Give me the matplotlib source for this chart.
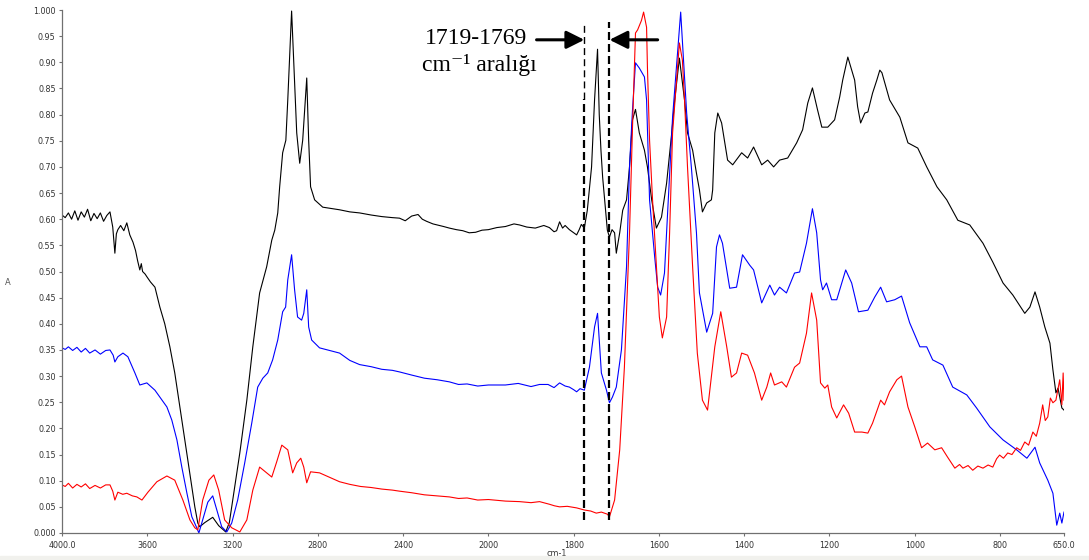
import numpy as np
import matplotlib
matplotlib.use('Agg')
import matplotlib.pyplot as plt
from matplotlib.ticker import FixedLocator, FixedFormatter, NullLocator
from matplotlib.patches import Rectangle

# spectra: (wavenumber cm-1, absorbance)
black = [(4000, 0.608), (3985, 0.603), (3970, 0.612), (3955, 0.600), (3940, 0.616), (3925, 0.598),
         (3910, 0.614), (3895, 0.604), (3880, 0.619), (3865, 0.597), (3850, 0.611), (3835, 0.601),
         (3820, 0.612), (3805, 0.596), (3790, 0.607), (3775, 0.614), (3762, 0.585), (3752, 0.535),
         (3745, 0.572), (3738, 0.580), (3725, 0.588), (3710, 0.578), (3696, 0.593), (3682, 0.570),
         (3667, 0.556), (3655, 0.540), (3645, 0.520), (3635, 0.503), (3628, 0.515), (3622, 0.500),
         (3610, 0.495), (3602, 0.490), (3585, 0.480), (3564, 0.470), (3541, 0.432), (3518, 0.400),
         (3494, 0.356), (3471, 0.306), (3447, 0.241), (3424, 0.178), (3400, 0.115), (3377, 0.050),
         (3363, 0.019), (3354, 0.012), (3330, 0.020), (3293, 0.030), (3265, 0.014), (3232, 0.002),
         (3215, 0.020), (3199, 0.063), (3166, 0.153), (3133, 0.254), (3105, 0.356), (3073, 0.459),
         (3040, 0.509), (3016, 0.560), (3002, 0.579), (2988, 0.612), (2979, 0.662), (2965, 0.727),
         (2950, 0.751), (2941, 0.828), (2923, 0.998), (2909, 0.860), (2899, 0.765), (2885, 0.707),
         (2871, 0.751), (2852, 0.870), (2843, 0.751), (2834, 0.662), (2815, 0.637), (2777, 0.623),
         (2698, 0.618), (2650, 0.614), (2604, 0.612), (2550, 0.608), (2500, 0.605), (2450, 0.603),
         (2417, 0.602), (2390, 0.597), (2360, 0.606), (2330, 0.609), (2310, 0.600), (2290, 0.596),
         (2260, 0.591), (2240, 0.589), (2210, 0.586), (2183, 0.583), (2150, 0.580), (2120, 0.578),
         (2090, 0.574), (2060, 0.575), (2030, 0.579), (2000, 0.580), (1980, 0.584), (1960, 0.586),
         (1940, 0.591), (1927, 0.589), (1910, 0.585), (1890, 0.583), (1870, 0.588), (1857, 0.584),
         (1846, 0.576), (1840, 0.578), (1833, 0.595), (1826, 0.583), (1820, 0.588), (1810, 0.580),
         (1800, 0.574), (1793, 0.570), (1787, 0.580), (1782, 0.590), (1775, 0.583), (1768, 0.617),
         (1758, 0.700), (1751, 0.828), (1744, 0.925), (1740, 0.800), (1736, 0.732), (1732, 0.680),
         (1721, 0.579), (1716, 0.566), (1710, 0.580), (1704, 0.574), (1700, 0.535), (1692, 0.574),
         (1685, 0.617), (1676, 0.637), (1669, 0.700), (1662, 0.790), (1655, 0.810), (1646, 0.765),
         (1634, 0.732), (1627, 0.700), (1617, 0.637), (1606, 0.583), (1594, 0.604), (1582, 0.669),
         (1570, 0.765), (1563, 0.828), (1552, 0.908), (1540, 0.828), (1533, 0.765), (1521, 0.732),
         (1512, 0.688), (1505, 0.656), (1498, 0.614), (1488, 0.631), (1477, 0.637), (1474, 0.656),
         (1469, 0.765), (1462, 0.803), (1453, 0.784), (1439, 0.713), (1427, 0.704), (1406, 0.727),
         (1392, 0.717), (1378, 0.738), (1359, 0.704), (1345, 0.713), (1331, 0.700), (1317, 0.713),
         (1298, 0.717), (1277, 0.746), (1263, 0.771), (1251, 0.822), (1240, 0.851), (1228, 0.809),
         (1218, 0.776), (1204, 0.776), (1188, 0.790), (1176, 0.834), (1169, 0.866), (1157, 0.910),
         (1141, 0.866), (1134, 0.815), (1127, 0.784), (1117, 0.803), (1110, 0.805), (1099, 0.841),
         (1089, 0.866), (1082, 0.885), (1077, 0.880), (1059, 0.828), (1035, 0.795), (1016, 0.746),
         (993, 0.736), (972, 0.700), (948, 0.662), (925, 0.637), (899, 0.598), (871, 0.589),
         (840, 0.554), (817, 0.518), (793, 0.478), (770, 0.455), (742, 0.420), (730, 0.432),
         (718, 0.461), (707, 0.432), (695, 0.394), (683, 0.363), (676, 0.312), (669, 0.268),
         (664, 0.277), (655, 0.239), (650, 0.235)]

blue = [(4000, 0.354), (3985, 0.351), (3970, 0.356), (3950, 0.349), (3930, 0.355), (3910, 0.346),
        (3890, 0.353), (3870, 0.344), (3845, 0.350), (3820, 0.342), (3795, 0.349), (3775, 0.350),
        (3760, 0.340), (3752, 0.327), (3738, 0.337), (3714, 0.344), (3691, 0.337), (3658, 0.306),
        (3635, 0.283), (3602, 0.287), (3564, 0.273), (3541, 0.260), (3508, 0.241), (3485, 0.216),
        (3461, 0.178), (3438, 0.126), (3414, 0.076), (3391, 0.031), (3368, 0.010), (3358, 0.000),
        (3340, 0.025), (3316, 0.059), (3293, 0.071), (3274, 0.044), (3251, 0.012), (3227, 0.002),
        (3204, 0.019), (3176, 0.063), (3143, 0.134), (3110, 0.210), (3082, 0.279), (3058, 0.296),
        (3035, 0.306), (3012, 0.331), (2988, 0.369), (2965, 0.423), (2951, 0.432), (2941, 0.484),
        (2923, 0.532), (2909, 0.465), (2895, 0.413), (2876, 0.407), (2866, 0.420), (2852, 0.465),
        (2843, 0.394), (2829, 0.369), (2792, 0.354), (2698, 0.344), (2650, 0.330), (2604, 0.322),
        (2550, 0.318), (2500, 0.313), (2450, 0.311), (2417, 0.308), (2360, 0.302), (2300, 0.296),
        (2240, 0.293), (2183, 0.289), (2140, 0.284), (2100, 0.285), (2050, 0.281), (2000, 0.283),
        (1960, 0.283), (1930, 0.286), (1900, 0.280), (1880, 0.284), (1860, 0.284), (1846, 0.278),
        (1833, 0.287), (1820, 0.281), (1810, 0.279), (1800, 0.274), (1793, 0.270), (1785, 0.276),
        (1775, 0.273), (1763, 0.317), (1751, 0.394), (1744, 0.420), (1735, 0.306), (1723, 0.273),
        (1716, 0.249), (1709, 0.260), (1700, 0.279), (1688, 0.350), (1676, 0.509), (1669, 0.700),
        (1662, 0.809), (1655, 0.899), (1646, 0.889), (1634, 0.872), (1629, 0.828), (1622, 0.637),
        (1610, 0.528), (1603, 0.470), (1596, 0.455), (1587, 0.497), (1578, 0.637), (1568, 0.795),
        (1549, 0.996), (1535, 0.803), (1524, 0.700), (1512, 0.574), (1505, 0.459), (1488, 0.384),
        (1474, 0.420), (1465, 0.547), (1458, 0.570), (1451, 0.554), (1434, 0.468), (1418, 0.470),
        (1404, 0.532), (1387, 0.512), (1378, 0.503), (1359, 0.440), (1340, 0.474), (1329, 0.455),
        (1317, 0.470), (1301, 0.459), (1282, 0.497), (1270, 0.499), (1254, 0.554), (1240, 0.620),
        (1230, 0.574), (1221, 0.484), (1216, 0.465), (1207, 0.478), (1195, 0.446), (1183, 0.446),
        (1162, 0.503), (1148, 0.478), (1132, 0.423), (1110, 0.426), (1094, 0.451), (1080, 0.470),
        (1066, 0.442), (1047, 0.446), (1031, 0.453), (1012, 0.402), (988, 0.356), (972, 0.356),
        (958, 0.331), (934, 0.321), (911, 0.279), (878, 0.264), (855, 0.239), (824, 0.203),
        (793, 0.178), (761, 0.159), (737, 0.143), (718, 0.164), (707, 0.134), (688, 0.101),
        (676, 0.076), (667, 0.015), (660, 0.038), (655, 0.019), (650, 0.040)]

red = [(4000, 0.092), (3985, 0.089), (3970, 0.095), (3950, 0.086), (3930, 0.093), (3910, 0.088),
       (3890, 0.094), (3870, 0.085), (3845, 0.091), (3820, 0.086), (3795, 0.092), (3775, 0.092),
       (3762, 0.080), (3752, 0.063), (3738, 0.078), (3715, 0.074), (3696, 0.076), (3670, 0.071),
       (3649, 0.069), (3625, 0.063), (3597, 0.078), (3555, 0.098), (3508, 0.109), (3471, 0.101),
       (3433, 0.063), (3400, 0.025), (3377, 0.010), (3363, 0.006), (3340, 0.063), (3311, 0.101),
       (3288, 0.111), (3265, 0.082), (3237, 0.025), (3204, 0.010), (3166, 0.002), (3133, 0.025),
       (3105, 0.082), (3073, 0.126), (3040, 0.115), (3016, 0.107), (2993, 0.136), (2969, 0.168),
       (2941, 0.159), (2918, 0.115), (2899, 0.134), (2880, 0.143), (2866, 0.126), (2852, 0.096),
       (2834, 0.117), (2792, 0.115), (2698, 0.098), (2650, 0.093), (2600, 0.089), (2550, 0.087),
       (2500, 0.084), (2450, 0.082), (2417, 0.080), (2360, 0.077), (2300, 0.073), (2240, 0.071),
       (2183, 0.069), (2140, 0.066), (2100, 0.067), (2050, 0.063), (2000, 0.064), (1960, 0.061),
       (1927, 0.060), (1900, 0.058), (1880, 0.060), (1857, 0.055), (1845, 0.052), (1833, 0.050),
       (1815, 0.051), (1793, 0.048), (1775, 0.044), (1760, 0.042), (1747, 0.038), (1735, 0.040),
       (1721, 0.036), (1716, 0.031), (1704, 0.063), (1692, 0.159), (1681, 0.317), (1669, 0.574),
       (1662, 0.776), (1655, 0.956), (1650, 0.962), (1641, 0.980), (1636, 0.996), (1629, 0.967),
       (1627, 0.891), (1622, 0.751), (1615, 0.637), (1606, 0.509), (1599, 0.413), (1592, 0.373),
       (1582, 0.413), (1575, 0.574), (1568, 0.765), (1552, 0.937), (1545, 0.904), (1540, 0.828),
       (1533, 0.700), (1521, 0.509), (1510, 0.344), (1498, 0.254), (1486, 0.235), (1469, 0.356),
       (1455, 0.423), (1441, 0.356), (1430, 0.298), (1418, 0.306), (1406, 0.344), (1392, 0.340),
       (1376, 0.306), (1359, 0.254), (1347, 0.279), (1338, 0.306), (1329, 0.283), (1312, 0.289),
       (1301, 0.279), (1282, 0.317), (1270, 0.325), (1254, 0.382), (1242, 0.459), (1230, 0.407),
       (1221, 0.287), (1211, 0.277), (1204, 0.283), (1195, 0.241), (1183, 0.220), (1167, 0.245),
       (1155, 0.229), (1141, 0.193), (1124, 0.193), (1110, 0.191), (1099, 0.210), (1080, 0.254),
       (1071, 0.245), (1059, 0.270), (1042, 0.293), (1031, 0.300), (1016, 0.241), (1000, 0.203),
       (984, 0.163), (970, 0.172), (953, 0.159), (937, 0.163), (923, 0.145), (906, 0.124),
       (895, 0.131), (887, 0.124), (875, 0.129), (864, 0.120), (852, 0.128), (840, 0.124),
       (828, 0.130), (817, 0.126), (808, 0.142), (801, 0.149), (792, 0.143), (782, 0.153),
       (772, 0.150), (761, 0.163), (752, 0.158), (742, 0.174), (733, 0.168), (723, 0.193),
       (715, 0.185), (707, 0.210), (700, 0.245), (694, 0.215), (688, 0.222), (682, 0.258),
       (676, 0.249), (669, 0.254), (660, 0.293), (655, 0.245), (652, 0.306), (650, 0.254)]

series_colors = ['black', '#0000ff', '#ff0000']

x_ticks = [4000, 3600, 3200, 2800, 2400, 2000, 1800, 1600, 1400, 1200, 1000, 800, 650]
x_labels = ['4000.0', '3600', '3200', '2800', '2400', '2000', '1800', '1600', '1400',
            '1200', '1000', '800', '650.0']
y_ticks = np.round(np.arange(0, 1.0001, 0.05), 2)
y_labels = ['%.3f' % v if v in (0.0, 1.0) else '%.2f' % v for v in y_ticks]

# marked band (dashed lines) and note
band = [1775, 1716]
note1 = '1719-1769'
note2 = 'cm⁻¹ aralığı'


# instrument style x axis: scale doubles below 2000 cm-1
def fwd(w):
    w = np.asarray(w, float)
    return np.where(w >= 2000, w, 2 * w - 2000)


def inv(u):
    u = np.asarray(u, float)
    return np.where(u >= 2000, u, (u + 2000) / 2)


fig = plt.figure(figsize=(10.89, 5.6), dpi=100)
fig.patches.append(Rectangle((0, 0), 1, 4 / 560, transform=fig.transFigure,
                             color='#f1f1ed', zorder=0))
ax = fig.add_axes([62 / 1089, 27 / 560, 1002 / 1089, 523 / 560])
ax.set_xscale('function', functions=(fwd, inv))

for pts, c in zip([black, blue, red], series_colors):
    arr = np.array(pts)
    ax.plot(arr[:, 0], arr[:, 1], color=c, lw=0.8)

ax.set_xlim(4000, 650)
ax.set_ylim(0, 1.0)

ax.xaxis.set_major_locator(FixedLocator(x_ticks))
ax.xaxis.set_major_formatter(FixedFormatter(x_labels))
ax.xaxis.set_minor_locator(NullLocator())
ax.yaxis.set_major_locator(FixedLocator(y_ticks))
ax.yaxis.set_major_formatter(FixedFormatter(y_labels))
ax.yaxis.set_minor_locator(NullLocator())
ax.tick_params(axis='both', direction='out', length=2.5, width=0.8, color='#707070',
               labelsize=5.8, labelcolor='#333333', pad=2)
ax.tick_params(axis='x', pad=3)
for s in ['top', 'right']:
    ax.spines[s].set_visible(False)
for s in ['left', 'bottom']:
    ax.spines[s].set_color('#707070')
    ax.spines[s].set_linewidth(0.9)

ax.set_xlabel('cm-1', fontsize=5.8, color='#333333')
ax.xaxis.set_label_coords(0.494, -0.03)
ax.set_ylabel('A', fontsize=6, color='#555555', rotation=0)
ax.yaxis.set_label_coords(-0.054, 0.47)

# dashed band limits
ax.vlines(band[0], 0.83, 0.977, colors='black', lw=1.0, linestyles=(0, (5, 3)))
ax.vlines(band[0], 0.025, 0.83, colors='black', lw=1.6, linestyles=(0, (3.6, 1.8)))
ax.vlines(band[1], 0.025, 0.977, colors='black', lw=1.6, linestyles=(0, (3.6, 1.8)))

# arrows pointing at the band
arr_y = 0.943
ax.annotate('', xy=(band[0], arr_y), xytext=(1887, arr_y),
            arrowprops=dict(arrowstyle='-|>', lw=2.2, color='black', mutation_scale=27,
                            shrinkA=0, shrinkB=0))
ax.annotate('', xy=(band[1], arr_y), xytext=(1603, arr_y),
            arrowprops=dict(arrowstyle='-|>', lw=2.2, color='black', mutation_scale=27,
                            shrinkA=0, shrinkB=0))

serif = ['Liberation Serif', 'DejaVu Serif']
fig.text(476 / 1089, 1 - 44 / 560, note1, fontsize=17, family=serif,
         ha='center', va='baseline')
fig.text(479 / 1089, 1 - 71 / 560, note2, fontsize=17, family=serif,
         ha='center', va='baseline')

fig.savefig('out.png', dpi=100)
